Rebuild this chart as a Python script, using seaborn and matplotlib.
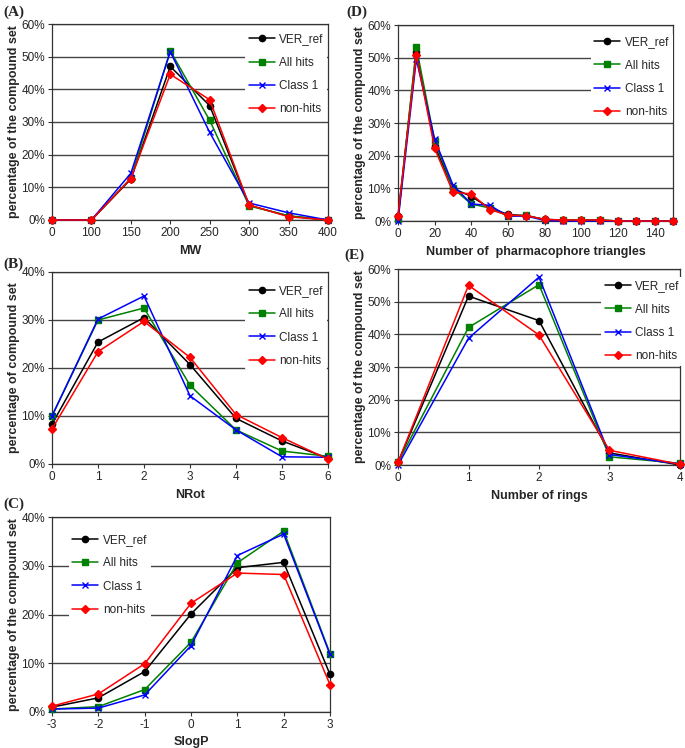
import numpy as np
import pandas as pd
import matplotlib
matplotlib.use("Agg")
import matplotlib.pyplot as plt
import seaborn as sns
from matplotlib.ticker import PercentFormatter

sns.set_style("white")
plt.rcParams['font.family'] = ['Liberation Sans', 'DejaVu Sans']
plt.rcParams['axes.unicode_minus'] = False

series = ["VER_ref", "All hits", "Class 1", "non-hits"]
colors = {"VER_ref": "black", "All hits": "#008000", "Class 1": "#0000ff", "non-hits": "#ff0000"}
markers = {"VER_ref": "o", "All hits": "s", "Class 1": "x", "non-hits": "D"}
msizes = {"VER_ref": 4.5, "All hits": 4.5, "Class 1": 4.5, "non-hits": 4.0}

# (A) MW
mw_cats = ["0", "100", "150", "200", "250", "300", "350", "400"]
mw_ver = [0, 0, 12.5, 47.0, 35.0, 4.5, 1.2, 0]
mw_all = [0, 0, 12.8, 51.8, 30.5, 4.3, 1.3, 0]
mw_cls = [0, 0, 14.3, 51.5, 26.8, 5.2, 2.2, 0]
mw_non = [0, 0, 12.7, 44.6, 36.8, 4.6, 1.0, 0]

# (B) NRot
nrot_x = [0, 1, 2, 3, 4, 5, 6]
nrot_ver = [8.3, 25.4, 30.5, 20.7, 9.5, 4.8, 1.2]
nrot_all = [10.0, 30.0, 32.5, 16.4, 7.1, 2.7, 1.6]
nrot_cls = [10.0, 30.2, 35.0, 14.2, 7.1, 1.5, 1.4]
nrot_non = [7.3, 23.4, 29.7, 22.2, 10.3, 5.5, 1.0]

# (C) SlogP
slogp_x = [-3, -2, -1, 0, 1, 2, 3]
slogp_ver = [1.0, 2.9, 8.3, 20.1, 29.6, 30.7, 7.7]
slogp_all = [0.6, 1.1, 4.6, 14.3, 30.6, 37.1, 12.0]
slogp_cls = [0.6, 0.8, 3.5, 13.6, 32.1, 36.5, 11.8]
slogp_non = [1.2, 3.7, 9.9, 22.3, 28.5, 28.2, 5.6]

# (D) Number of pharmacophore triangles
tri_x = [0, 10, 20, 30, 40, 50, 60, 70, 80, 90, 100, 110, 120, 130, 140, 150]
tri_ver = [1.5, 51.8, 23.0, 10.0, 7.5, 4.0, 2.0, 1.6, 0.5, 0.3, 0.3, 0.3, 0, 0, 0, 0]
tri_all = [0.5, 53.2, 24.5, 10.0, 5.2, 4.0, 1.5, 1.8, 0.3, 0.2, 0.2, 0.3, 0, 0, 0, 0]
tri_cls = [0, 49.5, 25.0, 11.0, 5.2, 4.8, 1.5, 1.5, 0.2, 0, 0, 0, 0, 0, 0, 0]
tri_non = [1.6, 50.8, 22.2, 8.8, 8.3, 3.5, 1.8, 1.6, 0.5, 0.3, 0.3, 0.3, 0, 0, 0, 0]

# (E) Number of rings
ring_x = [0, 1, 2, 3, 4]
ring_ver = [0.8, 51.7, 44.2, 3.7, 0]
ring_all = [0.8, 42.1, 55.2, 2.5, 0.5]
ring_cls = [0, 38.8, 57.5, 3.2, 0.3]
ring_non = [0.8, 55.0, 39.8, 4.5, 0.2]


def make_df(x, ys):
    rows = []
    for name, vals in zip(series, ys):
        for xi, v in zip(x, vals):
            rows.append({"x": xi, "y": v, "series": name})
    return pd.DataFrame(rows)


fig = plt.figure(figsize=(6.85, 7.48), dpi=100)
W, H = 685, 748


def axes_px(l, t, r, b):
    return fig.add_axes([l / W, 1 - b / H, (r - l) / W, (b - t) / H])


def draw(ax, df, ymax, xlabel, ylabel, leg_anchor):
    for name in series:
        sub = df[df["series"] == name]
        sns.lineplot(data=sub, x="x", y="y", color=colors[name],
                     marker=markers[name], ax=ax, linewidth=1.1,
                     markersize=msizes[name], markeredgewidth=1.0,
                     markeredgecolor=colors[name],
                     sort=False, label=name)
    for ln in ax.lines:
        ln.set_clip_on(False)
        ln.set_zorder(3)
    ax.set_ylim(0, ymax)
    ax.set_yticks(np.arange(0, ymax + 0.1, 10))
    ax.yaxis.set_major_formatter(PercentFormatter(decimals=0))
    ax.yaxis.grid(True, color="#444444", linewidth=1.0)
    ax.set_axisbelow(True)
    for s in ax.spines.values():
        s.set_color("#333333")
        s.set_linewidth(0.9)
    ax.tick_params(axis="both", labelsize=8.5, length=3, direction="out",
                   color="#333333", pad=2)
    ax.tick_params(axis="x", bottom=True)
    ax.tick_params(axis="y", left=True)
    ax.set_xlabel(xlabel, fontsize=9, fontweight="bold", labelpad=4)
    ax.set_ylabel(ylabel, fontsize=9, fontweight="bold", labelpad=1)
    leg = ax.legend(loc="upper left", bbox_to_anchor=leg_anchor, frameon=True,
                    fontsize=8.5, labelspacing=0.95, handlelength=2.2,
                    handletextpad=0.4, borderpad=0.3, borderaxespad=0)
    leg.get_frame().set_facecolor("white")
    leg.get_frame().set_edgecolor("none")
    leg.get_frame().set_alpha(1.0)
    leg.set_zorder(5)


ylab = "percentage of the compound set"

# (A)
axA = axes_px(52, 24, 328, 220)
dfA = make_df(mw_cats, [mw_ver, mw_all, mw_cls, mw_non])
draw(axA, dfA, 60, "MW", ylab, (0.70, 0.97))
axA.set_xlim(0, len(mw_cats) - 1)

# (B)
axB = axes_px(52, 272, 328, 464)
dfB = make_df(nrot_x, [nrot_ver, nrot_all, nrot_cls, nrot_non])
draw(axB, dfB, 40, "NRot", "percentage of compound set", (0.70, 0.95))
axB.set_xlim(0, 6)
axB.set_xticks(nrot_x)

# (C)
axC = axes_px(52, 517, 330, 712)
dfC = make_df(slogp_x, [slogp_ver, slogp_all, slogp_cls, slogp_non])
draw(axC, dfC, 40, "SlogP", ylab, (0.06, 0.93))
axC.set_xlim(-3, 3)
axC.set_xticks(slogp_x)

# (D)
axD = axes_px(398, 25, 673, 221)
dfD = make_df(tri_x, [tri_ver, tri_all, tri_cls, tri_non])
draw(axD, dfD, 60, "Number of  pharmacophore triangles", ylab, (0.70, 0.96))
axD.set_xlim(0, 150)
axD.set_xticks(np.arange(0, 141, 20))

# (E)
axE = axes_px(398, 269, 680, 465)
dfE = make_df(ring_x, [ring_ver, ring_all, ring_cls, ring_non])
draw(axE, dfE, 60, "Number of rings", ylab, (0.72, 0.96))
axE.set_xlim(0, 4)
axE.set_xticks(ring_x)

# panel letters
for lab, (px, py) in {"(A)": (3, 12), "(B)": (3, 264), "(C)": (3, 504),
                      "(D)": (346, 12), "(E)": (344, 255)}.items():
    fig.text(px / W, 1 - py / H, lab, fontsize=11, fontweight="bold",
             family=["Liberation Serif", "DejaVu Serif"], va="center", ha="left")

fig.savefig("out.png", dpi=100)
